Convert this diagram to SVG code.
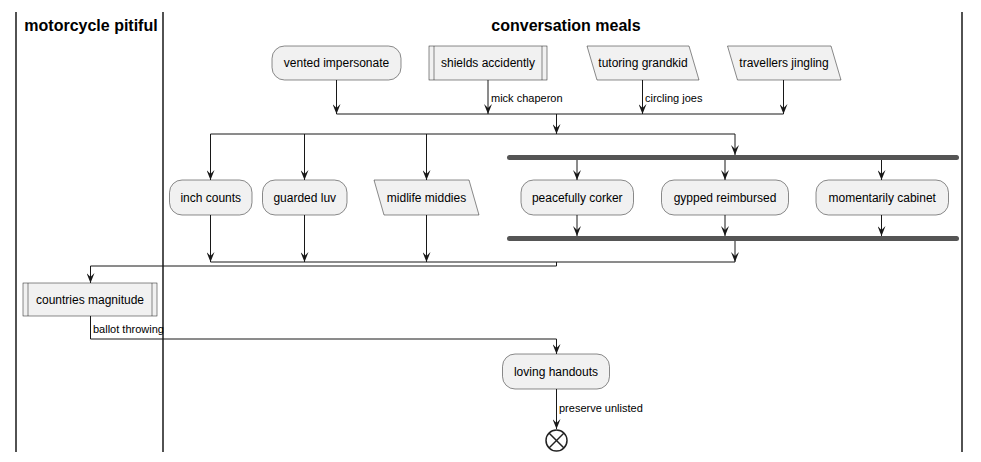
<svg xmlns="http://www.w3.org/2000/svg" width="981" height="462" viewBox="0 0 981 462">
<style>
.lane{stroke:#181818;stroke-width:1.5;fill:none}
.hdr{font-family:"Liberation Sans",Arial,sans-serif;font-size:16px;font-weight:bold;fill:#000;text-anchor:middle}
.node{fill:#F1F1F1;stroke:#181818;stroke-width:0.5}
.txt{font-family:"Liberation Sans",Arial,sans-serif;font-size:12px;fill:#000;text-anchor:middle}
.lbl{font-family:"Liberation Sans",Arial,sans-serif;font-size:11px;fill:#000}
.ln{stroke:#181818;stroke-width:1;fill:none}
.bar{fill:#555555}
</style>
<defs>
<marker id="ah" markerWidth="10" markerHeight="8" refX="10" refY="4" orient="auto" markerUnits="userSpaceOnUse" viewBox="0 0 10 8">
<polygon points="0,0 10,4 0,8 4,4" fill="#181818"/>
</marker>
</defs>
<rect width="981" height="462" fill="#FFFFFF"/>
<g id="lanes">
<line class="lane" x1="16" y1="12" x2="16" y2="452"/>
<line class="lane" x1="163" y1="12" x2="163" y2="452"/>
<line class="lane" x1="962" y1="12" x2="962" y2="452"/>
<text class="hdr" x="91" y="31">motorcycle pitiful</text>
<text class="hdr" x="566" y="31">conversation meals</text>
</g>
<g id="connectors">
<line class="ln" x1="336.5" y1="80" x2="336.5" y2="114" marker-end="url(#ah)"/>
<line class="ln" x1="488" y1="80" x2="488" y2="114" marker-end="url(#ah)"/>
<text class="lbl" x="491" y="102">mick chaperon</text>
<line class="ln" x1="642.5" y1="80" x2="642.5" y2="114" marker-end="url(#ah)"/>
<text class="lbl" x="645" y="102">circling joes</text>
<line class="ln" x1="783.5" y1="80" x2="783.5" y2="114" marker-end="url(#ah)"/>
<line class="ln" x1="336.5" y1="114" x2="783.5" y2="114"/>
<line class="ln" x1="556.5" y1="114" x2="556.5" y2="134" marker-end="url(#ah)"/>
<line class="ln" x1="210.5" y1="134" x2="735" y2="134"/>
<line class="ln" x1="210.5" y1="134" x2="210.5" y2="180" marker-end="url(#ah)"/>
<line class="ln" x1="304.5" y1="134" x2="304.5" y2="180" marker-end="url(#ah)"/>
<line class="ln" x1="426.5" y1="134" x2="426.5" y2="180" marker-end="url(#ah)"/>
<line class="ln" x1="735" y1="134" x2="735" y2="155" marker-end="url(#ah)"/>
<line class="ln" x1="577" y1="160" x2="577" y2="180" marker-end="url(#ah)"/>
<line class="ln" x1="725" y1="160" x2="725" y2="180" marker-end="url(#ah)"/>
<line class="ln" x1="881.5" y1="160" x2="881.5" y2="180" marker-end="url(#ah)"/>
<line class="ln" x1="577" y1="215" x2="577" y2="236" marker-end="url(#ah)"/>
<line class="ln" x1="725" y1="215" x2="725" y2="236" marker-end="url(#ah)"/>
<line class="ln" x1="881.5" y1="215" x2="881.5" y2="236" marker-end="url(#ah)"/>
<line class="ln" x1="735" y1="241" x2="735" y2="262" marker-end="url(#ah)"/>
<line class="ln" x1="210.5" y1="215" x2="210.5" y2="262" marker-end="url(#ah)"/>
<line class="ln" x1="304.5" y1="215" x2="304.5" y2="262" marker-end="url(#ah)"/>
<line class="ln" x1="426.5" y1="215" x2="426.5" y2="262" marker-end="url(#ah)"/>
<line class="ln" x1="210.5" y1="262" x2="735" y2="262"/>
<polyline class="ln" points="556.5,262 556.5,266 90.5,266 90.5,283" marker-end="url(#ah)"/>
<polyline class="ln" points="90.5,316 90.5,339 556.5,339 556.5,354" marker-end="url(#ah)"/>
<text class="lbl" x="93" y="333">ballot throwing</text>
<line class="ln" x1="556.5" y1="389" x2="556.5" y2="429" marker-end="url(#ah)"/>
<text class="lbl" x="559" y="412">preserve unlisted</text>
</g>
<g id="vented-impersonate">
<rect class="node" x="272" y="46" width="129" height="34" rx="12.5"/>
<text class="txt" x="336.5" y="67">vented impersonate</text>
</g>
<g id="shields-accidently">
<rect class="node" x="429" y="46" width="118" height="34"/>
<line class="node" x1="434" y1="46" x2="434" y2="80"/>
<line class="node" x1="542" y1="46" x2="542" y2="80"/>
<text class="txt" x="488" y="67">shields accidently</text>
</g>
<g id="tutoring-grandkid">
<polygon class="node" points="587,46 689,46 699,80 597,80"/>
<text class="txt" x="643" y="67">tutoring grandkid</text>
</g>
<g id="travellers-jingling">
<polygon class="node" points="727.5,46 831,46 841,80 737.5,80"/>
<text class="txt" x="784" y="67">travellers jingling</text>
</g>
<g id="inch-counts">
<rect class="node" x="169.5" y="180" width="82.5" height="35" rx="12.5"/>
<text class="txt" x="210.75" y="202">inch counts</text>
</g>
<g id="guarded-luv">
<rect class="node" x="262.5" y="180" width="84.5" height="35" rx="12.5"/>
<text class="txt" x="304.75" y="202">guarded luv</text>
</g>
<g id="midlife-middies">
<polygon class="node" points="374,180 469,180 479,215 384,215"/>
<text class="txt" x="426.5" y="202">midlife middies</text>
</g>
<g id="fork-bar">
<rect class="bar" x="507" y="155" width="452" height="5" rx="2.5"/>
</g>
<g id="peacefully-corker">
<rect class="node" x="521" y="180" width="112.5" height="35" rx="12.5"/>
<text class="txt" x="577.25" y="202">peacefully corker</text>
</g>
<g id="gypped-reimbursed">
<rect class="node" x="661.5" y="180" width="127" height="35" rx="12.5"/>
<text class="txt" x="725" y="202">gypped reimbursed</text>
</g>
<g id="momentarily-cabinet">
<rect class="node" x="816" y="180" width="132.5" height="35" rx="12.5"/>
<text class="txt" x="882.25" y="202">momentarily cabinet</text>
</g>
<g id="join-bar">
<rect class="bar" x="507" y="236" width="452" height="5" rx="2.5"/>
</g>
<g id="countries-magnitude">
<rect class="node" x="23" y="283" width="134" height="33"/>
<line class="node" x1="28" y1="283" x2="28" y2="316"/>
<line class="node" x1="152" y1="283" x2="152" y2="316"/>
<text class="txt" x="90" y="304">countries magnitude</text>
</g>
<g id="loving-handouts">
<rect class="node" x="502.5" y="354" width="107" height="35" rx="12.5"/>
<text class="txt" x="556" y="376">loving handouts</text>
</g>
<g id="end">
<circle cx="556.5" cy="440.5" r="10.5" fill="none" stroke="#222222" stroke-width="1.5"/>
<line x1="549" y1="433" x2="564" y2="448" stroke="#222222" stroke-width="1.5"/>
<line x1="564" y1="433" x2="549" y2="448" stroke="#222222" stroke-width="1.5"/>
</g>
</svg>
